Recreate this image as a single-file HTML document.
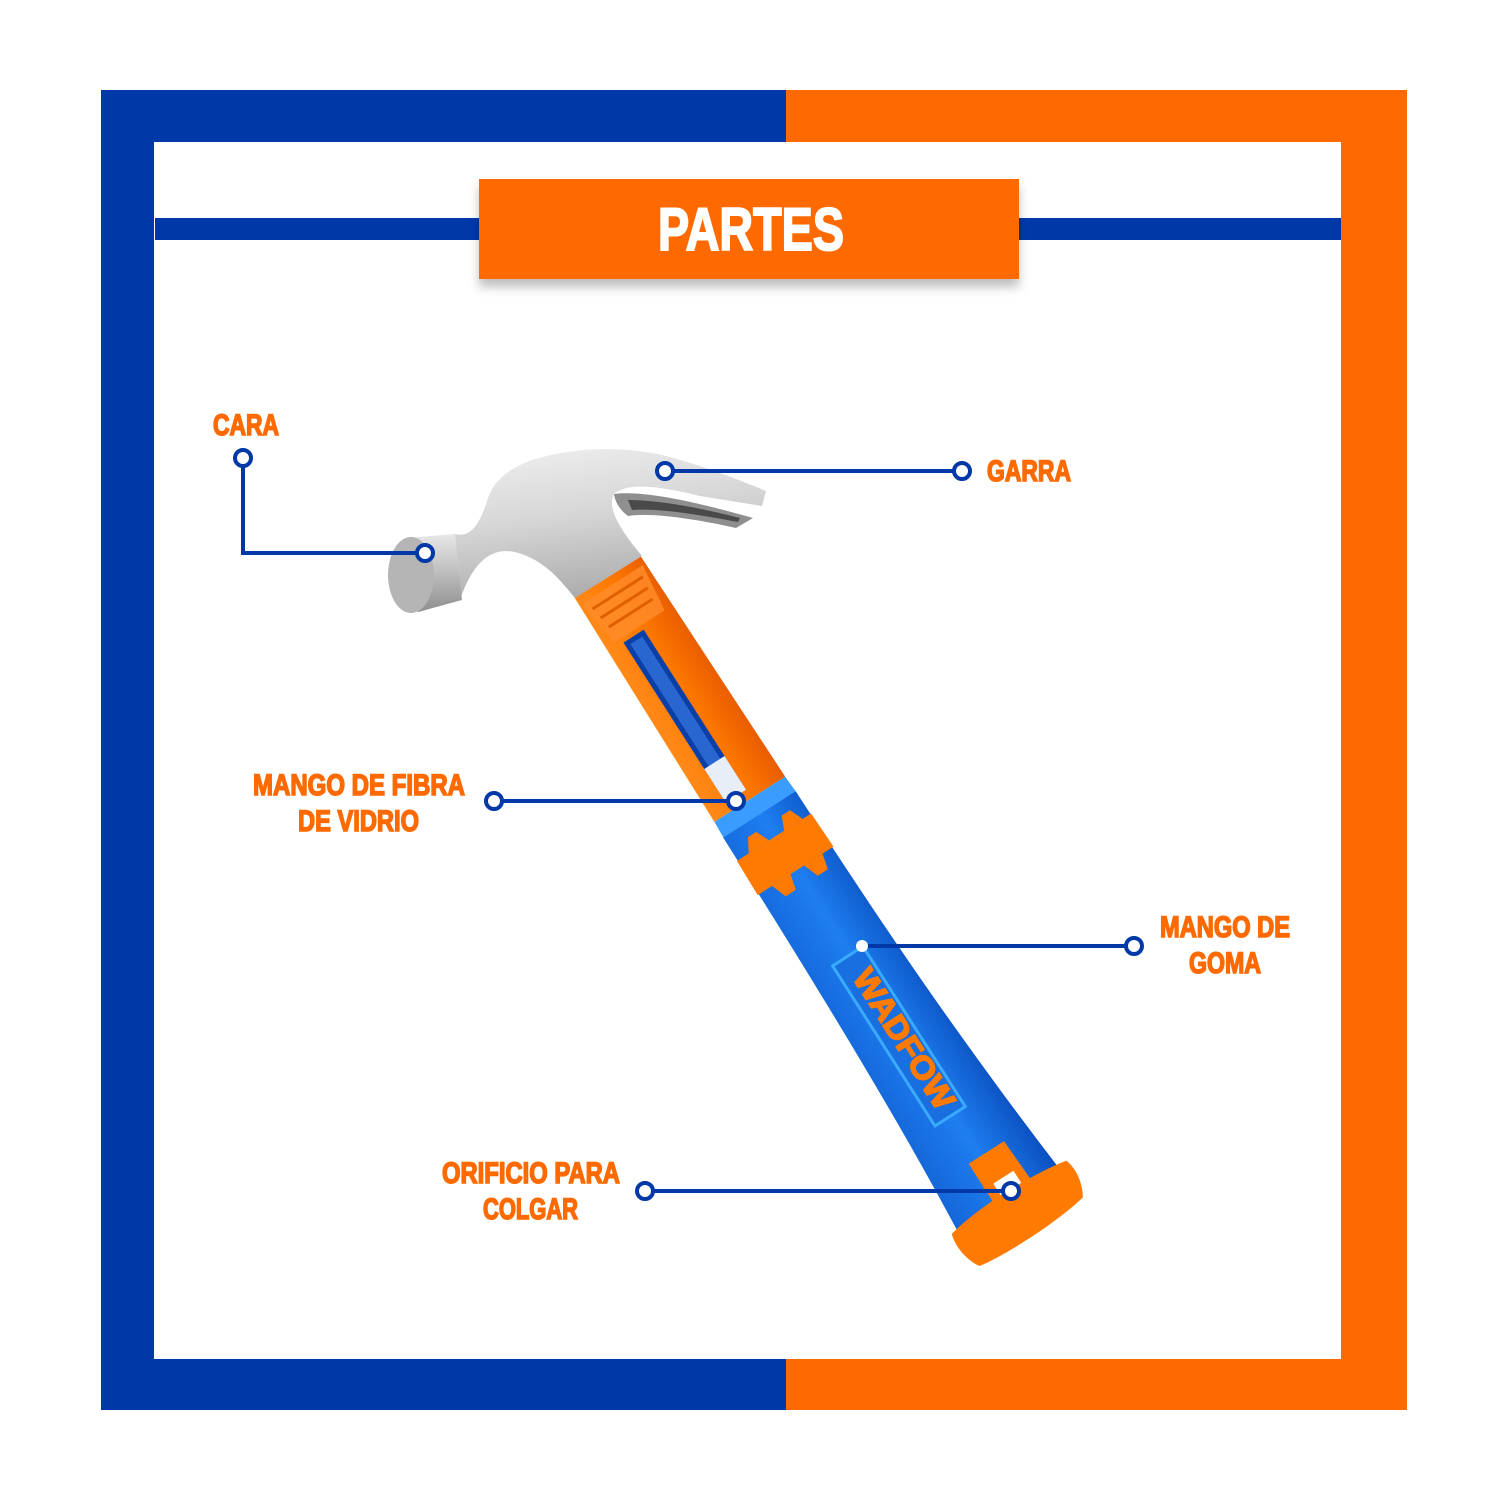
<!DOCTYPE html>
<html><head><meta charset="utf-8"><style>
html,body{margin:0;padding:0;background:#fff}
svg{display:block}
text{font-family:"Liberation Sans",sans-serif;font-weight:bold}
</style></head><body>
<svg width="1500" height="1500" viewBox="0 0 1500 1500" xmlns="http://www.w3.org/2000/svg">
<defs>
<linearGradient id="steel" x1="0" y1="0" x2="0.3" y2="1">
<stop offset="0" stop-color="#f2f2f2"/><stop offset="0.5" stop-color="#d6d6d6"/><stop offset="1" stop-color="#a9a9a9"/>
</linearGradient>
<linearGradient id="cyl" x1="0" y1="0" x2="0" y2="1">
<stop offset="0" stop-color="#e8e8e8"/><stop offset="0.5" stop-color="#bdbdbd"/><stop offset="1" stop-color="#8e8e8e"/>
</linearGradient>
<linearGradient id="org" x1="0" y1="0" x2="1" y2="0">
<stop offset="0" stop-color="#ff8a1a"/><stop offset="0.5" stop-color="#ff7a00"/><stop offset="1" stop-color="#e85d00"/>
</linearGradient>
<linearGradient id="blu" x1="0" y1="0" x2="1" y2="0">
<stop offset="0" stop-color="#1466d8"/><stop offset="0.5" stop-color="#1e7ef0"/><stop offset="1" stop-color="#0a4fbf"/>
</linearGradient>
<filter id="sh" x="-10%" y="-20%" width="120%" height="160%"><feDropShadow dx="0" dy="8" stdDeviation="5" flood-color="#000" flood-opacity="0.25"/></filter>
</defs>
<rect x="101" y="90" width="685" height="1320" fill="#0038A8"/>
<rect x="786" y="90" width="621" height="1320" fill="#FF6A00"/>
<rect x="154" y="142" width="1187" height="1217" fill="#fff"/>
<rect x="155" y="218" width="1186" height="22" fill="#0038A8"/>
<rect x="479" y="179" width="540" height="100" fill="#FF6A00" filter="url(#sh)"/>
<text x="751" y="250" font-size="60" fill="#fff" stroke="#fff" stroke-width="2" text-anchor="middle" textLength="186" lengthAdjust="spacingAndGlyphs">PARTES</text>

<g transform="translate(607,576) rotate(-32.6)">
  <path d="M-39,0 L39,0 L42,265 L-42,265 Z" fill="url(#org)"/>
  <path d="M-36,10 L36,10 L30,60 L-30,60 Z" fill="#ff8c2a" opacity="0.8"/>
  <g stroke="#e06000" stroke-width="3"><line x1="-30" y1="20" x2="30" y2="20"/><line x1="-28" y1="32" x2="28" y2="32"/><line x1="-26" y1="44" x2="26" y2="44"/></g>
  <rect x="-22" y="65" width="24" height="190" fill="#0a3fa8"/>
  <rect x="-17" y="70" width="14" height="180" fill="#2a66d0"/>
  <rect x="-22" y="215" width="24" height="40" fill="#e8eef8"/>
  <path d="M-42,265 L42,265 L43,285 L-43,285 Z" fill="#3a9cff"/>
  <path d="M-43,283 L43,283 C44,420 46,560 62,745 L-58,745 C-46,600 -44,420 -43,283 Z" fill="url(#blu)"/>
  <path d="M-44,310 L44,310 L45,350 L-45,350 Z" fill="#ff7a00"/>
  <path d="M-30,310 L-22,296 L-12,296 L-6,310 Z M12,310 L18,296 L28,296 L34,310 Z" fill="#ff7a00"/>
  <path d="M-28,350 L-22,366 L-10,366 L-6,350 Z M10,350 L16,366 L28,366 L32,350 Z" fill="#ff7a00"/>
  <rect x="-20" y="450" width="36" height="190" fill="#1a6fe0" stroke="#3aaaff" stroke-width="3"/>
  <text x="0" y="0" transform="translate(-10,470) rotate(90)" font-size="32" fill="#ff7a00" stroke="#ff7a00" stroke-width="1.5" textLength="160" lengthAdjust="spacingAndGlyphs">WADFOW</text>
  <path d="M-12,690 L-12,740 L32,740 L30,690 Z" fill="#ff7a00"/>
  <rect x="-2" y="720" width="24" height="20" fill="#fff"/>
  <path d="M-64,740 C-30,732 30,732 72,740 C76,752 74,767 66,780 C30,787 -30,787 -58,782 C-66,770 -68,752 -64,740 Z" fill="#ff7a00"/>
</g>

<path d="M410,538 L455,534 C470,538 480,525 488,498 C494,480 510,468 532,460 C572,447 622,446 662,455 C702,465 740,480 766,491 L762,506 L700,496 C660,486 628,482 614,494 C606,508 622,532 642,556 L575,598 C560,580 545,560 515,552 C495,548 475,556 460,600 L418,612 Z" fill="url(#steel)"/>
<path d="M614,494 C645,490 700,503 753,518 L736,528 C700,520 652,512 628,516 C620,510 615,502 614,494 Z" fill="#8f8f8f"/>
<path d="M628,500 C660,500 700,508 740,518 L738,522 C700,515 660,508 632,510 Z" fill="#4a4a4a"/>
<path d="M410,538 L455,534 L462,600 L418,612 Z" fill="url(#cyl)"/>
<ellipse cx="411" cy="575" rx="23" ry="38" fill="#b5b5b5"/>

<g stroke="#0038A8" stroke-width="4" fill="none">
<polyline points="243,458 243,553 425,553"/>
<line x1="665" y1="471" x2="962" y2="471"/>
<line x1="494" y1="801" x2="736" y2="801"/>
<line x1="862" y1="946" x2="1134" y2="946"/>
<line x1="645" y1="1191" x2="1011" y2="1191"/>
</g>
<g stroke="#0038A8" stroke-width="4" fill="#fff">
<circle cx="243" cy="458" r="8"/><circle cx="425" cy="553" r="8"/>
<circle cx="665" cy="471" r="8"/><circle cx="962" cy="471" r="8"/>
<circle cx="494" cy="801" r="8"/><circle cx="736" cy="801" r="8"/>
<circle cx="1134" cy="946" r="8"/>
<circle cx="645" cy="1191" r="8"/><circle cx="1011" cy="1191" r="8"/>
</g>
<circle cx="862" cy="946" r="6" fill="#fff"/>

<g fill="#FF6A00" stroke="#FF6A00" stroke-width="1.6" font-size="30">
<text x="213" y="435" textLength="66" lengthAdjust="spacingAndGlyphs">CARA</text>
<text x="987" y="481" textLength="84" lengthAdjust="spacingAndGlyphs">GARRA</text>
<text x="253" y="795" textLength="212" lengthAdjust="spacingAndGlyphs">MANGO DE FIBRA</text>
<text x="298" y="831" textLength="121" lengthAdjust="spacingAndGlyphs">DE VIDRIO</text>
<text x="1160" y="937" textLength="130" lengthAdjust="spacingAndGlyphs">MANGO DE</text>
<text x="1189" y="973" textLength="72" lengthAdjust="spacingAndGlyphs">GOMA</text>
<text x="442" y="1183" textLength="178" lengthAdjust="spacingAndGlyphs">ORIFICIO PARA</text>
<text x="483" y="1219" textLength="95" lengthAdjust="spacingAndGlyphs">COLGAR</text>
</g>
</svg>
</body></html>
